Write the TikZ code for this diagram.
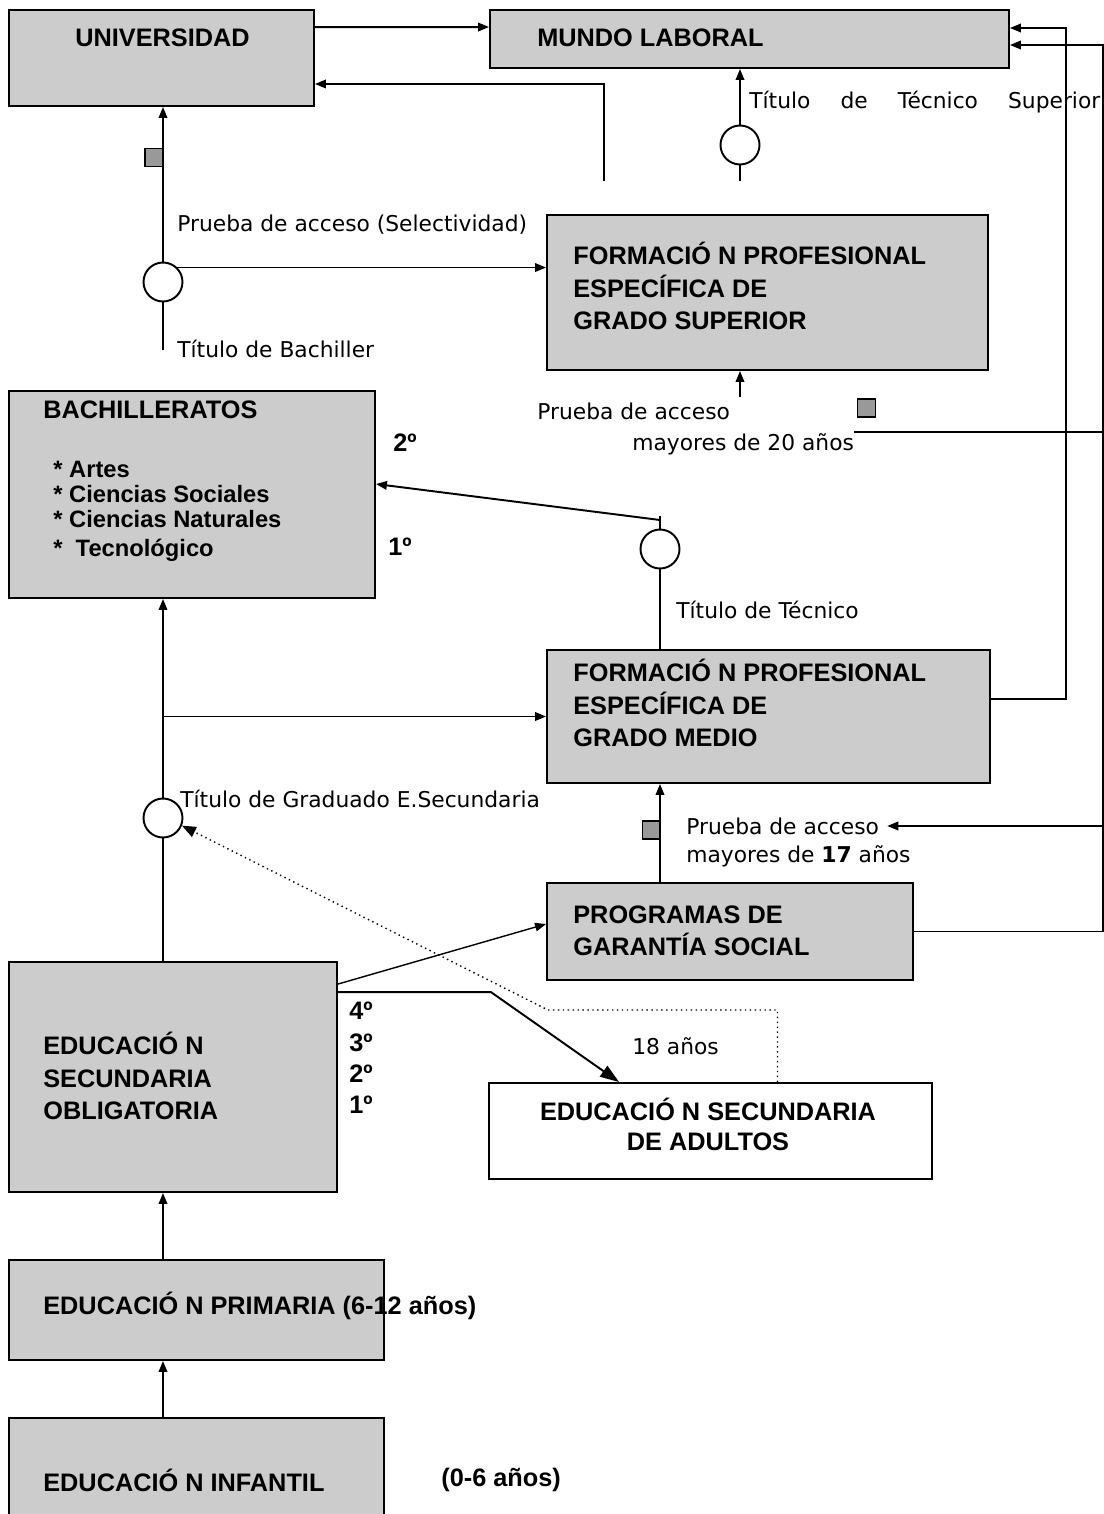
\documentclass[tikz,border=0pt]{standalone}
\usepackage{fontspec}
\setmainfont{DejaVu Sans}
\newfontfamily\hdfont{Liberation Sans}
\usetikzlibrary{positioning, arrows.meta}
\definecolor{boxgray}{RGB}{204,204,204}
\definecolor{tabgray}{RGB}{153,153,153}

\begin{document}
\begin{tikzpicture}[x=0.02cm, y=-0.02cm,
    box/.style={draw, line width=1.1pt, fill=boxgray, inner sep=0pt},
    head/.style={inner sep=0pt, anchor=west, align=left, font=\hdfont\bfseries\fontsize{14.4}{18.4}\selectfont},
    plain/.style={inner sep=0pt, anchor=west, font=\fontsize{12.4}{14.8}\selectfont},
    ring/.style={circle, draw, line width=1.1pt, fill=white, minimum size=0.78cm, inner sep=0pt},
    tabbox/.style={draw, line width=1.1pt, fill=tabgray, minimum size=0.36cm, inner sep=0pt},
    arr/.style={line width=1.1pt, -{Triangle[length=0.22cm, width=0.17cm]}},
    bigarr/.style={line width=1.1pt, -{Triangle[length=0.38cm, width=0.26cm]}},
    dotarr/.style={dotted, line width=0.8pt, -{Triangle[length=0.28cm, width=0.22cm]}}]
    \useasboundingbox (0,0) rectangle (1104,1514);

    % Boxes
    \node (univ) [box, minimum width=6.1cm, minimum height=1.92cm] at (161.5,58) {};
    \node (mundo) [box, minimum width=10.38cm, minimum height=1.16cm] at (749.5,39) {};
    \node (fpgs) [box, minimum width=8.82cm, minimum height=3.1cm] at (767.5,292.5) {};
    \node (bach) [box, minimum width=7.32cm, minimum height=4.14cm] at (192,494.5) {};
    \node (fpgm) [box, minimum width=8.86cm, minimum height=2.66cm] at (768.5,716.5) {};
    \node (pgs) [box, minimum width=7.32cm, minimum height=1.94cm] at (730,931.5) {};
    \node (eso) [box, minimum width=6.56cm, minimum height=4.6cm] at (173,1077) {};
    \node (adultos) [box, fill=white, minimum width=8.86cm, minimum height=1.92cm] at (710.5,1131) {};
    \node (primaria) [box, minimum width=7.5cm, minimum height=2cm] at (196.5,1310) {};
    \node (infantil) [box, minimum width=7.5cm, minimum height=2.08cm] at (196.5,1470) {};

    % Box texts
    \node (univt) [head] at (75,38) {UNIVERSIDAD};
    \node (mundot) [head] at (537,38) {MUNDO LABORAL};
    \node (fpgst) [head] at (573,286) {FORMACIÓ N PROFESIONAL\\ESPECÍFICA DE\\GRADO SUPERIOR};
    \node (bacht) [head] at (43,410) {BACHILLERATOS};
    \node (bachl) [head, anchor=north west, font=\hdfont\bfseries\fontsize{13.5}{14.2}\selectfont] at (53,461)
        {* Artes\\* Ciencias Sociales\\* Ciencias Naturales\\[2pt]*\ \ Tecnológico};
    \node (bach2) [head] at (393,443) {2º};
    \node (bach1) [head] at (388,547) {1º};
    \node (fpgmt) [head] at (573,703) {FORMACIÓ N PROFESIONAL\\ESPECÍFICA DE\\GRADO MEDIO};
    \node (pgst) [head] at (573,931) {PROGRAMAS DE\\GARANTÍA SOCIAL};
    \node (esot) [head] at (43,1076) {EDUCACIÓ N\\SECUNDARIA\\OBLIGATORIA};
    \node (esoc) [head, font=\hdfont\bfseries\fontsize{14.4}{17.8}\selectfont] at (349,1058) {4º\\3º\\2º\\1º};
    \node (adultost) [head, anchor=center, align=center, font=\hdfont\bfseries\fontsize{14.4}{17.1}\selectfont] at (708,1124)
        {EDUCACIÓ N SECUNDARIA\\DE ADULTOS};
    \node (primt) [head] at (43,1306) {EDUCACIÓ N PRIMARIA (6-12 años)};
    \node (inft) [head] at (43,1480) {EDUCACIÓ N INFANTIL};
    \node (infe) [head] at (441,1480) {(0-6 años)};

    % Titles and access notes
    \node (tsup) [plain] at (749,102) {\makebox[7.02cm][s]{Título de Técnico Superior}};
    \node (selec) [plain] at (177,225) {Prueba de acceso (Selectividad)};
    \node (tbach) [plain] at (177,349) {Título de Bachiller};
    \node (p20a) [plain] at (537,411) {Prueba de acceso};
    \node (m20) [plain] at (632,444) {mayores de 20 años};
    \node (ttec) [plain] at (676,610) {Título de Técnico};
    \node (teso) [plain] at (180,799) {Título de Graduado E.Secundaria};
    \node (p17a) [plain] at (686,826) {Prueba de acceso};
    \node (m17) [plain] at (686,856) {mayores de \textbf{17} años};
    \node (a18) [plain] at (632,1046) {18 años};

    % Circles and small tabs
    \node (csup) [ring] at (740,145) {};
    \node (cbach) [ring] at (163,282) {};
    \node (ctec) [ring] at (660,549) {};
    \node (ceso) [ring] at (163,818) {};
    \node (tab1) [tabbox] at (154,157.5) {};
    \node (tab2) [tabbox] at (866.5,408) {};
    \node (tab3) [tabbox] at (651.5,830) {};

    \coordinate (retbot) at (604,181);
    \coordinate (supbot) at (740,181);
    \coordinate (bachbot) at (163,350);
    \coordinate (p20top) at (740,397);
    \coordinate (tectop) at (660,516);
    \coordinate (dotbend) at (548,1010);

    % Arrows
    \draw[arr] ([yshift=-0.36cm]univ.north east) -- ([yshift=-0.36cm]mundo.north west);
    \draw[arr] (retbot) |- ([yshift=-0.52cm]univ.east);
    \draw[line width=1.1pt] (supbot) -- (csup);
    \draw[arr] (csup) -- (csup |- mundo.south);
    \draw[line width=1.1pt] (bachbot) -- (cbach);
    \draw[arr] (cbach) -- (cbach |- univ.south);
    \draw[arr] (cbach.45) -- (cbach.45 -| fpgs.west);
    \draw[arr] (p20top) -- (p20top |- fpgs.south);
    \draw[line width=1.1pt] (ctec) -- (tectop);
    \draw[arr] ([yshift=-0.08cm]tectop) -- ([yshift=0.21cm]bach.east);
    \draw[line width=1.1pt] (ctec) -- (ctec |- fpgm.north);
    \draw[line width=1.1pt] (eso.north -| ceso) -- (ceso);
    \draw[arr] (ceso) -- (ceso |- bach.south);
    \draw[arr] (ceso |- fpgm.west) -- (fpgm.west);
    \draw[arr] (pgs.north -| ctec) -- (ctec |- fpgm.south);
    \draw[arr] ([yshift=0.35cm]fpgm.east) -- ++(1.5cm,0) |- ([yshift=0.22cm]mundo.east);
    \draw[arr] (pgs.east) -- ++(3.78cm,0) coordinate (rc) |- ([yshift=-0.12cm]mundo.east);
    \draw[arr] (p17a.east -| rc) -- ([xshift=0.16cm]p17a.east);
    \draw[line width=1.1pt] ([yshift=0.24cm]m20.east) -- ([yshift=0.24cm]m20.east -| rc);
    \draw[arr, line width=0.8pt] ([yshift=-0.46cm]eso.north east) -- ([yshift=0.15cm]pgs.west);
    \draw[bigarr] ([yshift=-0.62cm]eso.north east) -- ++(3.06cm,0) -- ([xshift=2.62cm]adultos.north west);
    \draw[dotarr] ([xshift=1.34cm]adultos.north) |- (dotbend) -- (ceso.-22);
    \draw[arr] (primaria.north -| ceso) -- (ceso |- eso.south);
    \draw[arr] (infantil.north -| ceso) -- (ceso |- primaria.south);
\end{tikzpicture}
\end{document}
